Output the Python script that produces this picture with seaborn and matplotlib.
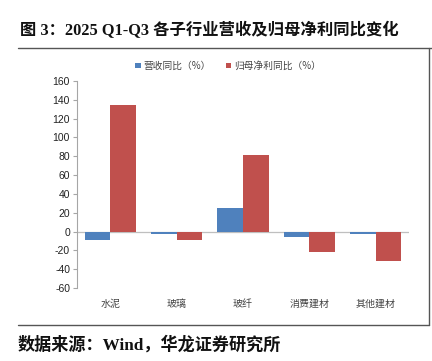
import matplotlib
matplotlib.use("Agg")
import matplotlib.pyplot as plt
import seaborn as sns
import pandas as pd
from matplotlib.patches import Patch
from matplotlib.lines import Line2D

categories = ["水泥", "玻璃", "玻纤", "消费建材", "其他建材"]
revenue_yoy = [-8.5, -2.5, 24.6, -5.6, -2.9]
profit_yoy = [134.4, -9.2, 81.3, -22.2, -31.7]
series_names = ["营收同比（%）", "归母净利同比（%）"]
yticks = list(range(-60, 161, 20))

title = "图 3：2025 Q1-Q3 各子行业营收及归母净利同比变化"
source = "数据来源：Wind，华龙证券研究所"

sns.set_theme(style="white")
plt.rcParams["font.family"] = ["Liberation Sans", "Noto Sans CJK SC", "DejaVu Sans"]

df = pd.DataFrame({
    "cat": categories * 2,
    "val": revenue_yoy + profit_yoy,
    "series": [series_names[0]] * len(categories) + [series_names[1]] * len(categories),
})
colors = ["#4F81BD", "#C0504D"]

W, H = 432, 361
fig = plt.figure(figsize=(W / 100, H / 100), dpi=100)
ax = fig.add_axes([77 / W, 1 - 288 / H, 332 / W, (288 - 81) / H])

sns.barplot(data=df, x="cat", y="val", hue="series", palette=colors,
            width=0.77, ax=ax, legend=False, saturation=1, edgecolor="none")

ax.set_ylim(-60, 160)
ax.set_xlim(-0.5, len(categories) - 0.5)
ax.set_yticks(yticks)
ax.set_yticklabels([str(t) for t in yticks], fontsize=7.5,
                   family=["Liberation Sans", "DejaVu Sans"], color="#222222")
ax.set_xlabel("")
ax.set_ylabel("")
for s in ["top", "right", "bottom"]:
    ax.spines[s].set_visible(False)
ax.spines["left"].set_color("#A6A6A6")
ax.spines["left"].set_linewidth(0.8)
ax.axhline(0, color="#BFBFBF", linewidth=0.9, zorder=0)
ax.tick_params(axis="y", length=3, width=0.8, color="#A6A6A6", pad=2, left=True)
ax.tick_params(axis="x", length=0, pad=8)
for lbl in ax.get_xticklabels():
    lbl.set_fontsize(7.2)
    lbl.set_color("#444444")
    lbl.set_family(["Noto Sans CJK SC"])

handles = [Patch(facecolor=c, edgecolor="none") for c in colors]
fig.legend(handles, series_names, loc="center", bbox_to_anchor=(228 / W, 1 - 66 / H),
           ncol=2, frameon=False, handlelength=0.55, handleheight=0.55,
           handletextpad=0.3, columnspacing=1.5, labelcolor="#444444",
           prop={"family": ["Noto Sans CJK SC"], "size": 7})

# frame lines
fig.add_artist(Line2D([18 / W, 1], [1 - 48 / H, 1 - 48 / H], color="#555555", linewidth=1.0))
fig.add_artist(Line2D([18 / W, 429 / W], [1 - 325 / H, 1 - 325 / H], color="#555555", linewidth=1.0))
fig.add_artist(Line2D([429 / W, 429 / W], [1 - 48 / H, 1 - 325 / H], color="#555555", linewidth=1.0))

fig.text(20 / W, 1 - 30 / H, title, fontsize=11.75, fontweight="bold", va="center", ha="left",
         family=["Liberation Serif", "Noto Sans CJK SC"], color="#111111")
fig.text(18 / W, 1 - 345 / H, source, fontsize=12.3, fontweight="bold", va="center", ha="left",
         family=["Liberation Serif", "Noto Sans CJK SC"], color="#111111")

fig.savefig("out.png", dpi=100)
